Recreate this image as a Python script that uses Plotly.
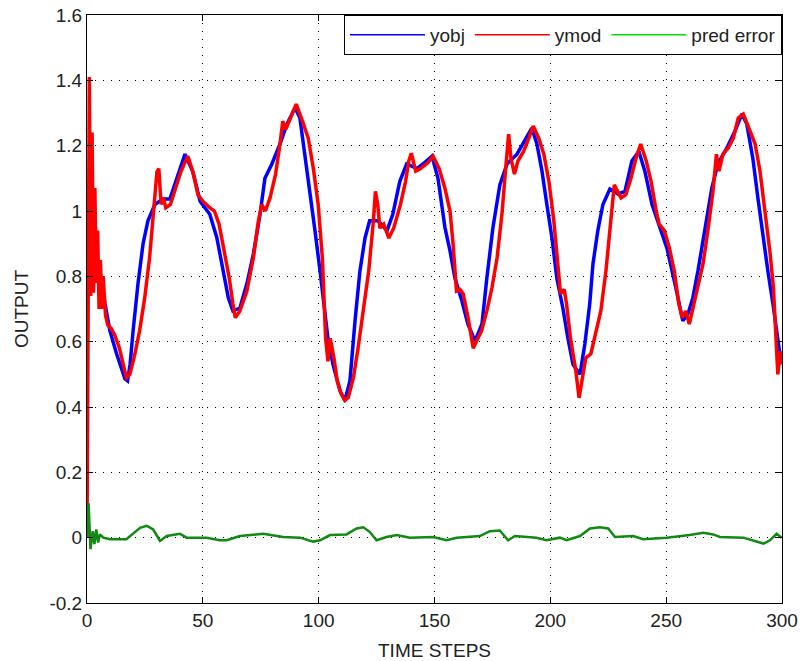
import plotly.graph_objects as go

# ---- data ----
yobj_t = [1, 3.9, 5.6, 7.8, 9.9, 12.8, 16.4, 17.5, 18.6, 19.9, 22, 24.2, 26.3, 29.3, 32.8, 35.8,
          38.8, 42.3, 45.7, 48.8, 53, 56, 58.8, 61, 63, 66, 69, 71.8, 74.7, 76.8, 79.8, 83.3,
          86.3, 89.8, 91.9, 94.1, 96.2, 98.4, 100.6, 102.3, 104, 106.2, 109.2, 111.3, 113.5,
          115.7, 117.8, 120, 122, 125.6, 129.5, 132, 135, 138, 142.4, 145, 148.9, 151.5, 153,
          154.5, 156.7, 158.8, 161.8, 164.4, 167.5, 170.5, 172.6, 175.2, 178.2, 181.3, 185.6,
          189, 192, 194.2, 196.4, 198.5, 200.7, 202.8, 205.4, 207.6, 209.8, 212.8, 214.9, 217,
          218.4, 220.5, 222.7, 225.7, 229.2, 232.2, 235.2, 238.2, 240.8, 243.9, 247.3, 250.3,
          253.8, 257.2, 259.4, 261.5, 263.7, 266.7, 269.7, 272.3, 276.2, 279.7, 282.7, 284.8,
          287.4, 289.6, 291.8, 293.9, 296.1, 298.2, 299.5]
yobj_v = [0.90, 0.847, 0.816, 0.715, 0.633, 0.562, 0.486, 0.48, 0.53, 0.633, 0.777, 0.90, 0.97,
          1.02, 1.037, 1.037, 1.10, 1.174, 1.12, 1.03, 0.99, 0.92, 0.816, 0.734, 0.694, 0.703,
          0.777, 0.868, 0.99, 1.10, 1.144, 1.205, 1.266, 1.316, 1.285, 1.174, 1.07, 0.94, 0.816,
          0.715, 0.61, 0.53, 0.45, 0.42, 0.48, 0.664, 0.816, 0.917, 0.97, 0.97, 0.94, 0.99, 1.09,
          1.144, 1.13, 1.144, 1.168, 1.10, 1.03, 0.95, 0.878, 0.795, 0.725, 0.654, 0.602, 0.654,
          0.795, 0.948, 1.08, 1.144, 1.174, 1.214, 1.254, 1.205, 1.122, 1.02, 0.917, 0.795,
          0.703, 0.61, 0.53, 0.50, 0.593, 0.715, 0.838, 0.94, 1.02, 1.067, 1.052, 1.06, 1.153,
          1.183, 1.122, 1.02, 0.948, 0.887, 0.777, 0.664, 0.685, 0.734, 0.816, 0.94, 1.07,
          1.144, 1.193, 1.245, 1.297, 1.266, 1.162, 1.04, 0.917, 0.816, 0.715, 0.602, 0.54]

ymod_t = [0, 1, 1.6, 2.2, 2.8, 3.4, 4.0, 4.6, 5.2, 5.8, 6.4, 7.0, 8.0, 9.0, 10.5, 12, 14, 15.5,
          17, 18.5, 20.6, 22.7, 24.9, 27, 28.9, 30.2, 31, 32, 33, 34, 36, 38.3, 40.5, 43.5,
          45.7, 47.9, 50, 53, 55, 57, 59.2, 61.4, 63, 64, 66, 69, 71.8, 74, 75.5, 77, 79, 81.4,
          83.3, 84.5, 85.8, 88, 90.3, 93, 95.5, 97.7, 99.8, 101.6, 103, 104, 105, 106.6, 108,
          109.7, 111.3, 112.8, 115, 117, 119.4, 121.6, 123.5, 124.5, 125.5, 126.4, 128.1, 130.3,
          132.4, 135.3, 137.5, 138.9, 140, 141.9, 144, 147, 149.4, 152, 154.5, 156.7, 158,
          159.5, 161, 162.4, 164.5, 166.7, 168, 170.3, 172.6, 174.8, 177, 179.1, 180.6, 182,
          183, 184.5, 186, 188.5, 190.7, 192.6, 195, 197.2, 199.4, 201.5, 203, 204.4, 206, 207,
          208.7, 211, 212.4, 213.9, 215.3, 217.5, 219.6, 221.8, 224, 226, 227.6, 229, 230.5,
          232.6, 234.8, 237, 239, 241.4, 243.5, 245.7, 247, 249.2, 251.4, 253.5, 255.5, 256.9,
          258.4, 260, 261.5, 263.7, 265.9, 268, 270.2, 271.7, 272.8, 274.5, 276.8, 279, 281.1,
          283.3, 285.5, 288.4, 290.5, 292.7, 294.9, 296.3, 297.5, 298.2, 299.2, 300]
ymod_v = [0.0, 1.41, 0.74, 1.24, 0.75, 1.07, 0.78, 0.94, 0.70, 0.85, 0.70, 0.80, 0.68, 0.65,
          0.64, 0.62, 0.58, 0.53, 0.49, 0.50, 0.56, 0.633, 0.734, 0.856, 1.0, 1.12, 1.13, 1.02,
          1.04, 1.01, 1.02, 1.07, 1.12, 1.168, 1.12, 1.05, 1.03, 1.01, 1.00, 0.96, 0.878, 0.795,
          0.715, 0.673, 0.694, 0.755, 0.856, 0.97, 1.02, 1.00, 1.04, 1.113, 1.205, 1.275, 1.25,
          1.285, 1.327, 1.275, 1.223, 1.13, 1.02, 0.856, 0.61, 0.54, 0.61, 0.55, 0.48, 0.44,
          0.42, 0.43, 0.49, 0.58, 0.694, 0.816, 0.96, 1.06, 1.02, 0.948, 0.96, 0.917, 0.948,
          1.02, 1.09, 1.153, 1.177, 1.122, 1.13, 1.147, 1.168, 1.13, 1.07, 1.0, 0.9, 0.755,
          0.76, 0.746, 0.673, 0.58, 0.60, 0.633, 0.694, 0.765, 0.856, 0.99, 1.12, 1.235, 1.162,
          1.113, 1.153, 1.183, 1.223, 1.26, 1.223, 1.174, 1.09, 0.97, 0.856, 0.746, 0.76, 0.715,
          0.61, 0.51, 0.428, 0.49, 0.55, 0.563, 0.624, 0.694, 0.816, 0.96, 1.08, 1.06, 1.04,
          1.05, 1.10, 1.162, 1.205, 1.153, 1.09, 1.0, 0.96, 0.94, 0.887, 0.816, 0.715, 0.673,
          0.694, 0.654, 0.703, 0.765, 0.838, 0.94, 1.06, 1.174, 1.122, 1.174, 1.193, 1.223,
          1.285, 1.297, 1.254, 1.205, 1.122, 1.0, 0.868, 0.765, 0.61, 0.50, 0.57, 0.53]

err_t = [0, 0.7, 1.5, 2.5, 3.2, 4, 4.8, 5.6, 7, 10, 17, 18.6, 22.9, 25.8, 28.6, 31.5, 34.4,
         40.1, 43, 51.6, 57.4, 60.3, 66, 76, 84.7, 92, 97.6, 100.6, 104.9, 112, 116.4, 119.3,
         122, 125, 129.3, 133.7, 139.4, 149.4, 155.2, 159.6, 169.6, 173.9, 178.2, 181.8, 184.7,
         194, 198.4, 204.1, 207, 212.8, 217.1, 221.4, 225, 227.9, 235.8, 240.1, 250.2, 260.2,
         266, 270.3, 273.2, 283.3, 289, 292, 294.8, 297.7, 299.8]
err_v = [0.0, 0.105, -0.035, 0.02, -0.02, 0.025, -0.015, 0.01, 0.0, -0.005, -0.005, 0.005, 0.03,
         0.036, 0.025, -0.01, 0.005, 0.012, 0.0, 0.0, -0.008, -0.008, 0.005, 0.012, 0.002, 0.0,
         -0.012, -0.008, 0.008, 0.01, 0.028, 0.032, 0.018, -0.008, 0.002, 0.008, 0.0, 0.002,
         -0.008, 0.0, 0.005, 0.02, 0.022, -0.008, 0.005, 0.0, -0.008, 0.0, -0.008, 0.005, 0.028,
         0.032, 0.028, 0.002, 0.005, -0.005, 0.0, 0.008, 0.015, 0.01, 0.002, 0.0, -0.012, -0.018,
         -0.008, 0.012, 0.0]

x_ticks = [0, 50, 100, 150, 200, 250, 300]
y_ticks = [-0.2, 0, 0.2, 0.4, 0.6, 0.8, 1, 1.2, 1.4, 1.6]
y_tick_labels = ["-0.2", "0", "0.2", "0.4", "0.6", "0.8", "1", "1.2", "1.4", "1.6"]

FONT = "Liberation Sans, Arial, sans-serif"

fig = go.Figure()
fig.add_trace(go.Scatter(x=yobj_t, y=yobj_v, mode="lines", name="yobj",
                         line=dict(color="#0000ff", width=3.5), showlegend=False))
fig.add_trace(go.Scatter(x=ymod_t, y=ymod_v, mode="lines", name="ymod",
                         line=dict(color="#ff0000", width=3.5), showlegend=False))
fig.add_trace(go.Scatter(x=err_t, y=err_v, mode="lines", name="pred error",
                         line=dict(color="#108a10", width=2.5), showlegend=False))
# legend-only entries with thin lines
for nm, col in [("yobj", "#0000ff"), ("ymod", "#ff0000"), ("pred error", "#00e000")]:
    fig.add_trace(go.Scatter(x=[None], y=[None], mode="lines", name=nm,
                             line=dict(color=col, width=1.5), showlegend=True))

axis_common = dict(
    showline=True, linecolor="black", linewidth=1, mirror="ticks",
    ticks="inside", ticklen=6, tickcolor="black", tickwidth=1,
    showgrid=True, gridcolor="black", gridwidth=1, griddash="1px,7px",
    zeroline=False, automargin=False, ticklabeloverflow="allow",
    tickfont=dict(family=FONT, size=19, color="#222222"),
)

fig.update_layout(
    width=801, height=661,
    margin=dict(l=87, r=19, t=15, b=58),
    paper_bgcolor="white", plot_bgcolor="white",
    font=dict(family=FONT, size=19, color="#222222"),
    xaxis=dict(range=[0, 300], tickvals=x_ticks,
               title=dict(text="TIME STEPS", font=dict(family=FONT, size=19)),
               **axis_common),
    yaxis=dict(range=[-0.2, 1.6], tickvals=y_ticks, ticktext=y_tick_labels,
               title=dict(text="OUTPUT", font=dict(family=FONT, size=19)),
               **axis_common),
    legend=dict(orientation="h", x=1, xanchor="right", y=1, yanchor="top",
                bgcolor="white", bordercolor="black", borderwidth=1,
                font=dict(family=FONT, size=19, color="#222222"),
                itemwidth=75, tracegroupgap=0),
)

# remove the default page margin so the figure sits at the window origin
fig.write_html("out.html", config={"displayModeBar": False},
               post_script="document.body.style.margin='0';document.body.style.overflow='hidden';")
